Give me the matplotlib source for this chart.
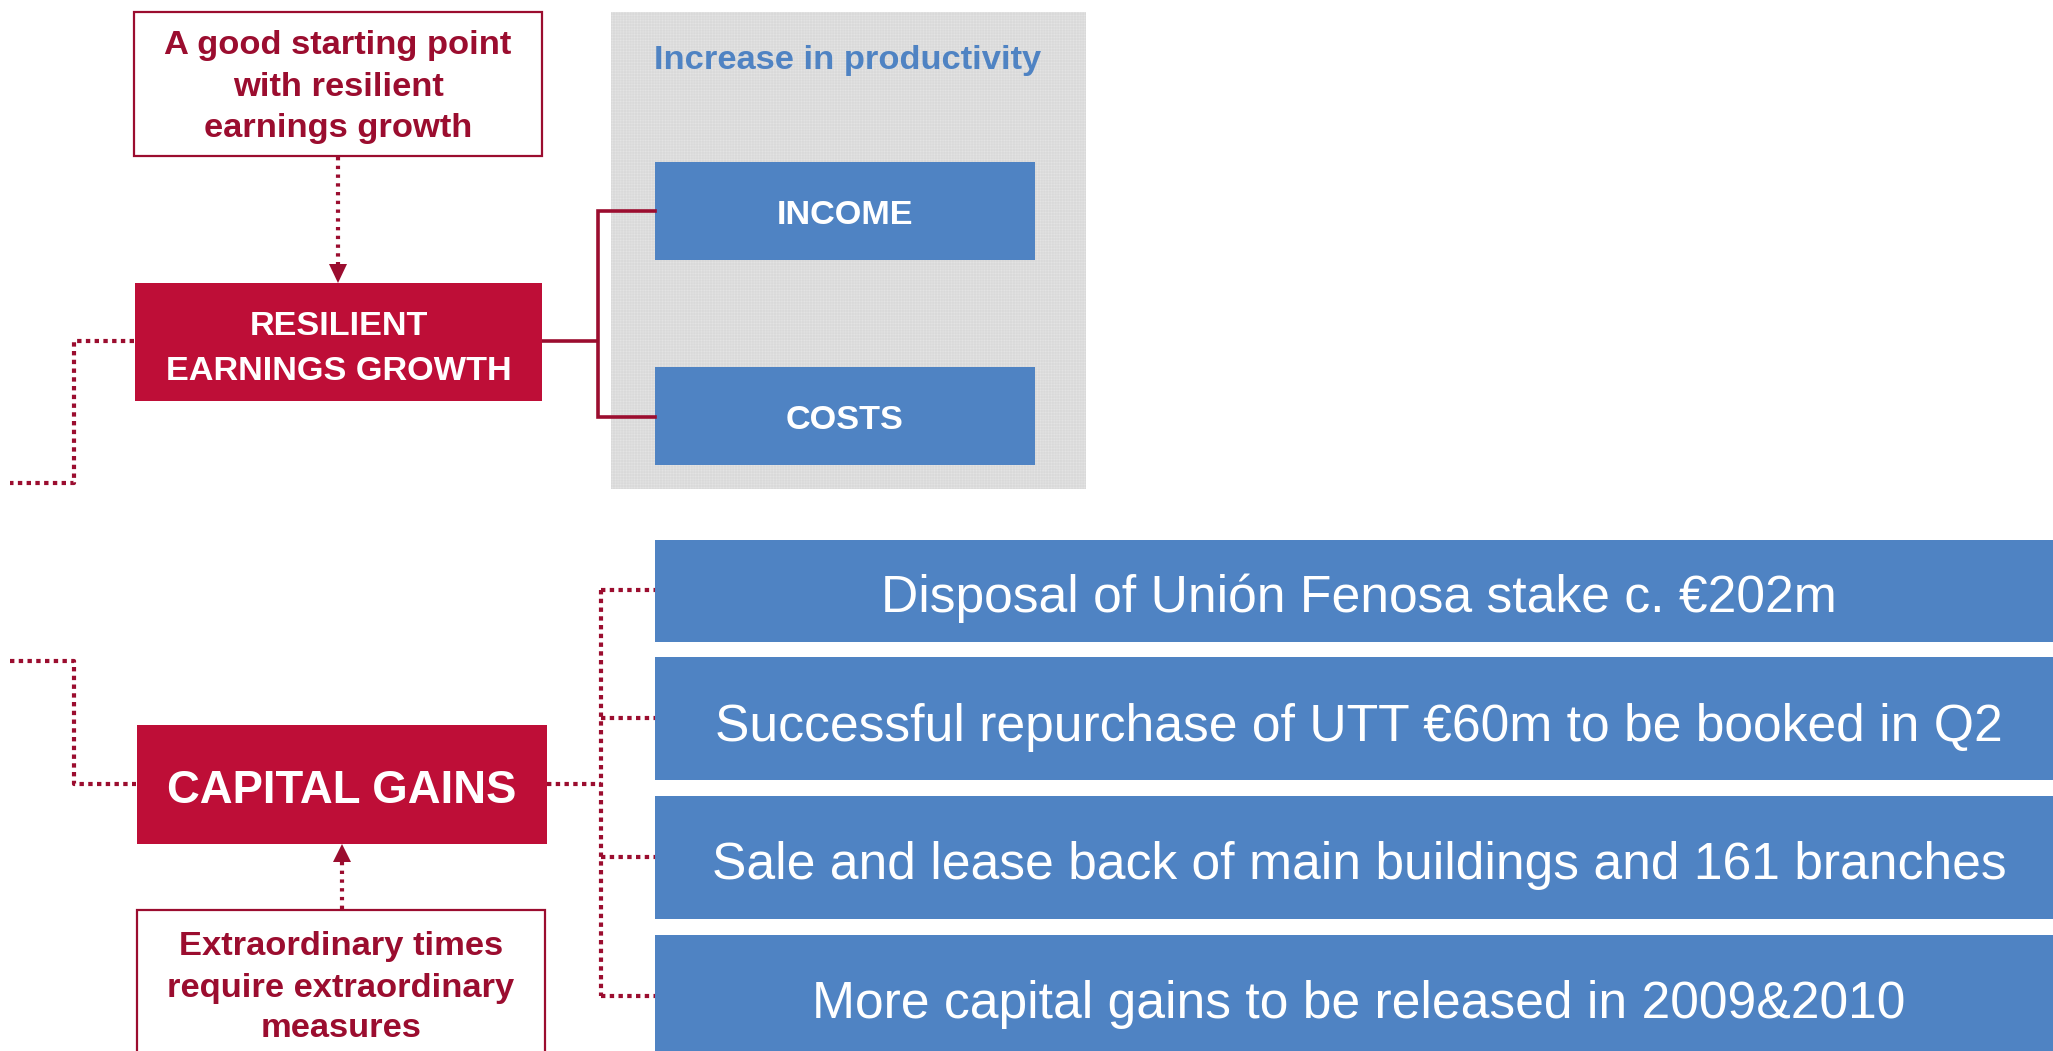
import matplotlib.pyplot as plt
from matplotlib.patches import Rectangle, Polygon

plt.rcParams['font.family'] = ['Liberation Sans', 'DejaVu Sans']

CRIMSON = '#BE0E37'
DARK_RED = '#9B0D2F'
BLUE = '#4F83C3'
GREY = '#D9D9D9'

# texts of the diagram
note_top = ["A good starting point", "with resilient", "earnings growth"]
note_bottom = ["Extraordinary times", "require extraordinary", "measures"]
earnings_label = ["RESILIENT", "EARNINGS GROWTH"]
productivity_title = "Increase in productivity"
productivity_items = ["INCOME", "COSTS"]
gains_label = "CAPITAL GAINS"
gains_items = [
    "Disposal of Unión Fenosa stake c. €202m",
    "Successful repurchase of UTT €60m to be booked in Q2",
    "Sale and lease back of main buildings and 161 branches",
    "More capital gains to be released in 2009&2010",
]

# layout in pixels (y grows downwards)
prod_tops = [162, 367]
prod_height = 98
gains_tops = [540, 657, 796, 935]
gains_bottoms = [642, 780, 919, 1070]
gains_links = [590, 718, 857, 996]
gains_baselines = [612, 741, 879, 1018]

fig = plt.figure(figsize=(20.53, 10.51), dpi=100)
ax = fig.add_axes([0, 0, 1, 1])
ax.set_xlim(0, 2053)
ax.set_ylim(1051, 0)
ax.axis('off')

dots = dict(color=DARK_RED, lw=3, ls=(0, (1.05, 1.05)))
small_dots = dict(color=DARK_RED, lw=3, ls=(0, (0.8, 1.3)))

# grey productivity panel
plt.rcParams['hatch.linewidth'] = 0.4
ax.add_patch(Rectangle((611, 12), 475, 477, fc=GREY, ec='#E3E3E3',
                       hatch='++++++', lw=0))
ax.text(848, 69, productivity_title, color=BLUE, fontsize=24.8,
        fontweight='bold', ha='center', va='baseline')

for top, label in zip(prod_tops, productivity_items):
    ax.add_patch(Rectangle((655, top), 380, prod_height, fc=BLUE, ec='none'))
    ax.text(845, top + 62, label, color='white', fontsize=24.7,
            fontweight='bold', ha='center', va='baseline')

# solid connector earnings -> income / costs
ax.plot([542, 598], [341, 341], color=DARK_RED, lw=2.6, solid_capstyle='butt')
ax.plot([655, 598, 598, 655], [211, 211, 417, 417], color=DARK_RED, lw=2.6,
        solid_joinstyle='miter')

# top note box + arrow
ax.add_patch(Rectangle((134, 12), 408, 144, fc='white', ec=DARK_RED, lw=1.6))
for y, line in zip([54, 96, 137], note_top):
    ax.text(338, y, line, color=DARK_RED, fontsize=24.8, fontweight='bold',
            ha='center', va='baseline')
ax.plot([338, 338], [157, 265], **small_dots)
ax.add_patch(Polygon([[329, 264], [347, 264], [338, 283]], closed=True,
                     fc=DARK_RED, ec='none'))

# resilient earnings growth box
ax.add_patch(Rectangle((135, 283), 407, 118, fc=CRIMSON, ec='none'))
for y, line in zip([335, 380], earnings_label):
    ax.text(338.5, y, line, color='white', fontsize=24.7, fontweight='bold',
            ha='center', va='baseline')

# dotted links on the left edge
ax.plot([134, 74, 74, 10], [341, 341, 483, 483], **dots)
ax.plot([10, 74, 74, 136], [661, 661, 784, 784], **dots)

# capital gains box
ax.add_patch(Rectangle((137, 725), 410, 119, fc=CRIMSON, ec='none'))
ax.text(342, 803, gains_label, color='white', fontsize=32.8,
        fontweight='bold', ha='center', va='baseline')

# bottom note box + arrow
ax.add_patch(Rectangle((137, 910), 408, 200, fc='white', ec=DARK_RED, lw=1.6))
for y, line in zip([955, 997, 1037], note_bottom):
    ax.text(341, y, line, color=DARK_RED, fontsize=24.8, fontweight='bold',
            ha='center', va='baseline')
ax.plot([342, 342], [909, 861], **small_dots)
ax.add_patch(Polygon([[333, 862], [351, 862], [342, 844]], closed=True,
                     fc=DARK_RED, ec='none'))

# dotted tree to the capital gains items
ax.plot([547, 601], [784, 784], **dots)
ax.plot([601, 601], [gains_links[0], gains_links[-1]], **dots)
for y in gains_links:
    ax.plot([601, 655], [y, y], **dots)

for top, bottom, base, label in zip(gains_tops, gains_bottoms,
                                     gains_baselines, gains_items):
    ax.add_patch(Rectangle((655, top), 1410, bottom - top, fc=BLUE, ec='none'))
    ax.text(1359, base, label, color='white', fontsize=37.2,
            ha='center', va='baseline')

fig.savefig('out.png', dpi=100)
plt.close(fig)
